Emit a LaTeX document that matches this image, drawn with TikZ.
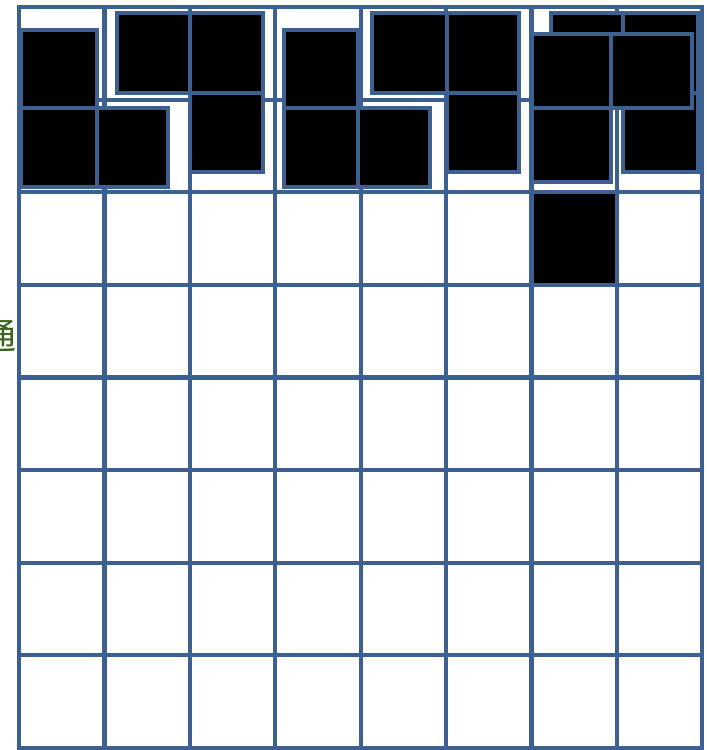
\documentclass[tikz,border=0pt]{standalone}
\usepackage{fontspec}
\newfontfamily\cjk{Noto Sans CJK SC}
\definecolor{gridblue}{RGB}{60,97,145}
\definecolor{txtgreen}{RGB}{58,100,30}
\tikzset{
  gridline/.style={draw=gridblue, line width=4.2pt},
  blk/.style={fill=black, draw=gridblue, line width=3.2pt},
  lbl/.style={inner sep=0pt, text=txtgreen, font=\cjk\fontsize{36}{36}\selectfont}
}
\begin{document}
\begin{tikzpicture}[x=1pt,y=-1pt]
\useasboundingbox (0,0) rectangle (707,750);
\fill[white] (0,0) rectangle (707,750);
% filled grid cell (col 7,row 3)
\fill[black] (531.4,192.2) rectangle (616.8,284.8);
% grid
\foreach \i in {0,...,8} {
  \draw[gridline] (19+85.4*\i,7) -- (19+85.4*\i,748);
  \draw[gridline] (17,7+92.6*\i) -- (704.2,7+92.6*\i);
}
% piece 1
\draw[blk] (21,30) rectangle (97,108);
\draw[blk] (21,108) rectangle (97,187);
\draw[blk] (97,108) rectangle (168,187);
% piece 2
\draw[blk] (117,13) rectangle (190,93);
\draw[blk] (190,13) rectangle (263,93);
\draw[blk] (190,93) rectangle (263,172);
% piece 3
\draw[blk] (284,30) rectangle (358,108);
\draw[blk] (284,108) rectangle (358,187);
\draw[blk] (358,108) rectangle (430,187);
% piece 4
\draw[blk] (372,13) rectangle (447,93);
\draw[blk] (447,13) rectangle (519,93);
\draw[blk] (447,93) rectangle (519,172);
% piece 5 (behind)
\draw[blk] (551,13) rectangle (623,93);
\draw[blk] (623,13) rectangle (698,93);
\draw[blk] (623,93) rectangle (698,172);
% piece 6 (front)
\draw[blk] (532,34) rectangle (611,108);
\draw[blk] (611,34) rectangle (692,108);
\draw[blk] (532,108) rectangle (611,182);
% label
\node[lbl, anchor=east] (t) at (16.5,336) {通};
\end{tikzpicture}
\end{document}
